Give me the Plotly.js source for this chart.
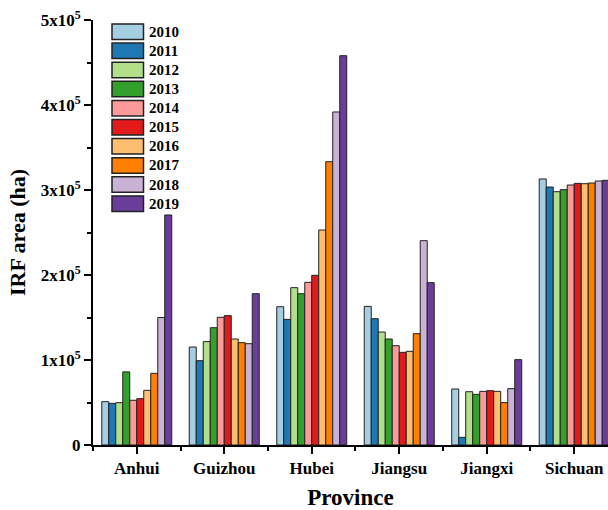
<!DOCTYPE html>
<html>
<head>
<meta charset="utf-8">
<script src="https://cdn.plot.ly/plotly-3.0.1.min.js"></script>
<style>html,body{margin:0;padding:0;background:#fff;}#chart{width:608px;height:510px;}</style>
</head>
<body>
<div id="chart"></div>
<script>
var provinces = ["Anhui", "Guizhou", "Hubei", "Jiangsu", "Jiangxi", "Sichuan"];
var years = ["2010", "2011", "2012", "2013", "2014", "2015", "2016", "2017", "2018", "2019"];
var colors = ["#a6cee3", "#1f78b4", "#b2df8a", "#33a02c", "#fb9a99", "#e31a1c", "#fdbf6f", "#ff7f00", "#cab2d6", "#6a3d9a"];

// values per year, in province order
var v2010 = [51000, 115300, 162700, 163100, 65900, 313000];
var v2011 = [49000, 99200, 147800, 148600, 9000, 303500];
var v2012 = [49800, 121600, 185100, 132900, 62700, 298000];
var v2013 = [86000, 138000, 178000, 124700, 59600, 300400];
var v2014 = [52600, 150200, 191400, 116800, 63100, 305900];
var v2015 = [54500, 152200, 199600, 109000, 63900, 307800];
var v2016 = [64300, 124700, 252900, 110200, 63100, 307400];
var v2017 = [84300, 120400, 333300, 131000, 49800, 308200];
var v2018 = [150000, 119200, 391800, 240400, 66300, 310600];
var v2019 = [270600, 178000, 458000, 191000, 100400, 311400];
var series = [v2010, v2011, v2012, v2013, v2014, v2015, v2016, v2017, v2018, v2019];

var yTickVals = [0, 100000, 200000, 300000, 400000, 500000];
var yTickText = ["0", "1x10<sup>5</sup>", "2x10<sup>5</sup>", "3x10<sup>5</sup>", "4x10<sup>5</sup>", "5x10<sup>5</sup>"];

var xIdx = provinces.map(function (p, i) { return i; });

var traces = series.map(function (vals, k) {
  return {
    type: "bar",
    name: years[k],
    x: xIdx,
    y: vals,
    marker: { color: colors[k], line: { color: "#222", width: 1 } },
    showlegend: false,
    hoverinfo: "y+name"
  };
});

var font = "'Liberation Serif', 'Times New Roman', serif";

// custom legend (swatches + labels) in paper coords
var W = 608, H = 510, ml = 93, mr = 0, mt = 20, mb = 65;
var pw = W - ml - mr, ph = H - mt - mb;
function px(x) { return (x - ml) / pw; }
function py(y) { return (H - mb - y) / ph; }
var shapes = [], annotations = [];
years.forEach(function (yr, k) {
  var top = 24 + k * 19.1, bot = top + 15.5;
  shapes.push({
    type: "rect", xref: "paper", yref: "paper",
    x0: px(112), x1: px(143.5), y0: py(bot), y1: py(top),
    fillcolor: colors[k], line: { color: "#222", width: 1.5 }
  });
  annotations.push({
    xref: "paper", yref: "paper", x: px(147), y: py((top + bot) / 2),
    xanchor: "left", yanchor: "middle", showarrow: false,
    text: "<b>" + yr + "</b>", font: { family: font, size: 15, color: "#000" }
  });
});

var layout = {
  width: W, height: H,
  margin: { l: ml, r: mr, t: mt, b: mb },
  paper_bgcolor: "#fff", plot_bgcolor: "#fff",
  barmode: "group", bargap: 0.2, bargroupgap: 0,
  font: { family: font, color: "#000" },
  xaxis: {
    type: "linear",
    range: [-0.5, 5.386],
    tickvals: xIdx, ticktext: provinces.map(function (p) { return "<b>" + p + "</b>"; }),
    ticks: "outside", ticklen: 7, tickwidth: 2, tickcolor: "#000",
    minor: { tick0: 0.5, dtick: 1, ticks: "outside", ticklen: 4, tickwidth: 2, tickcolor: "#000" },
    showline: true, linecolor: "#000", linewidth: 2,
    showgrid: false, zeroline: false,
    tickfont: { family: font, size: 17, color: "#000" },
    title: { text: "<b>Province</b>", font: { family: font, size: 23, color: "#000" }, standoff: 17 }
  },
  yaxis: {
    range: [0, 500000],
    tickvals: yTickVals, ticktext: yTickText.map(function (t) { return "<b>" + t + "</b>"; }),
    ticks: "outside", ticklen: 7, tickwidth: 2, tickcolor: "#000",
    minor: { tick0: 50000, dtick: 100000, ticks: "outside", ticklen: 4, tickwidth: 2, tickcolor: "#000" },
    showline: true, linecolor: "#000", linewidth: 2,
    showgrid: false, zeroline: false,
    tickfont: { family: font, size: 17, color: "#000" },
    title: { text: "<b>IRF area (ha)</b>", font: { family: font, size: 22, color: "#000" }, standoff: 9 }
  },
  shapes: shapes,
  annotations: annotations,
  showlegend: false
};

Plotly.newPlot("chart", traces, layout, { displayModeBar: false, staticPlot: true });
</script>
</body>
</html>
